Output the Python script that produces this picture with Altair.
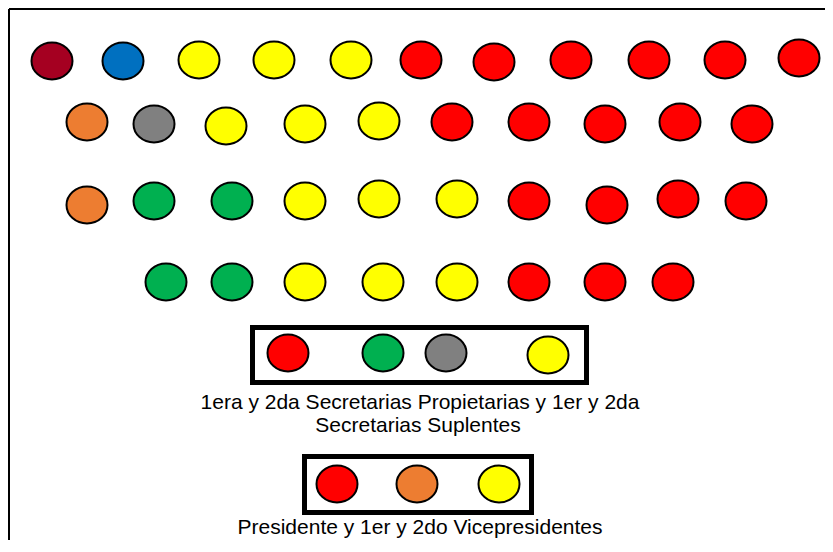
import altair as alt
import pandas as pd

# Seat rows (centre positions, in page pixels)
row1_party = ["guinda", "azul", "amarillo", "amarillo", "amarillo",
              "rojo", "rojo", "rojo", "rojo", "rojo", "rojo"]
row1_x = [52, 123, 199, 274, 351, 421, 494, 571, 649, 725, 799]
row1_y = [61, 61, 60, 60, 60, 60, 62, 60, 60, 60, 58]

row2_party = ["naranja", "gris", "amarillo", "amarillo", "amarillo",
              "rojo", "rojo", "rojo", "rojo", "rojo"]
row2_x = [87, 154, 226, 305, 379, 452, 529, 605, 680, 752]
row2_y = [122, 124, 126, 124, 121, 122, 122, 124, 122, 124]

row3_party = ["naranja", "verde", "verde", "amarillo", "amarillo", "amarillo",
              "rojo", "rojo", "rojo", "rojo"]
row3_x = [87, 154, 232, 305, 379, 457, 529, 607, 678, 746]
row3_y = [205, 201, 201, 201, 199, 199, 201, 205, 199, 201]

row4_party = ["verde", "verde", "amarillo", "amarillo", "amarillo",
              "rojo", "rojo", "rojo"]
row4_x = [166, 232, 305, 383, 457, 529, 605, 673]
row4_y = [282, 282, 282, 282, 282, 282, 282, 282]

secretarias_party = ["rojo", "verde", "gris", "amarillo"]
secretarias_x = [288, 383, 446, 548]
secretarias_y = [353, 353, 353, 355]

presidencia_party = ["rojo", "naranja", "amarillo"]
presidencia_x = [337, 417, 499]
presidencia_y = [484, 484, 484]

parties = ["guinda", "azul", "amarillo", "rojo", "naranja", "gris", "verde"]
party_colors = ["#A50021", "#0070C0", "#FFFF00", "#FF0000", "#ED7D31", "#808080", "#00B050"]

# Boxes around the board seats
box_x = [252.5, 304.5]
box_x2 = [586.5, 531.5]
box_y = [327.5, 456.5]
box_y2 = [382.5, 512.5]

label_text = ["1era y 2da Secretarias Propietarias y 1er y 2da",
              "Secretarias Suplentes",
              "Presidente y 1er y 2do Vicepresidentes"]
label_x = [420, 418, 420]
label_y = [408.5, 431.5, 534]

frame_x = [9, 9]
frame_x2 = [825, 9]
frame_y = [9, 9]
frame_y2 = [9, 540]

seats = pd.DataFrame({
    "party": row1_party + row2_party + row3_party + row4_party + secretarias_party + presidencia_party,
    "x": row1_x + row2_x + row3_x + row4_x + secretarias_x + presidencia_x,
    "y": row1_y + row2_y + row3_y + row4_y + secretarias_y + presidencia_y,
})
boxes = pd.DataFrame({"x": box_x, "x2": box_x2, "y": box_y, "y2": box_y2})
labels = pd.DataFrame({"text": label_text, "x": label_x, "y": label_y})
frame = pd.DataFrame({"x": frame_x, "x2": frame_x2, "y": frame_y, "y2": frame_y2})

W, H = 817, 532
xs = alt.Scale(domain=[8, 8 + W], nice=False, zero=False)
ys = alt.Scale(domain=[8, 8 + H], reverse=True, nice=False, zero=False)

ellipse = "M-1,0A1,0.902,0,1,1,1,0A1,0.902,0,1,1,-1,0Z"

seat_layer = alt.Chart(seats).mark_point(
    shape=ellipse, filled=True, size=41 * 41, stroke="black", strokeWidth=2, opacity=1
).encode(
    x=alt.X("x:Q", scale=xs, axis=None),
    y=alt.Y("y:Q", scale=ys, axis=None),
    fill=alt.Fill("party:N", scale=alt.Scale(domain=parties, range=party_colors), legend=None),
)

box_layer = alt.Chart(boxes).mark_rect(
    fillOpacity=0, stroke="black", strokeWidth=5
).encode(
    x=alt.X("x:Q", scale=xs, axis=None), x2="x2:Q",
    y=alt.Y("y:Q", scale=ys, axis=None), y2="y2:Q",
)

frame_layer = alt.Chart(frame).mark_rule(color="black", strokeWidth=2).encode(
    x=alt.X("x:Q", scale=xs, axis=None), x2="x2:Q",
    y=alt.Y("y:Q", scale=ys, axis=None), y2="y2:Q",
)

text_layer = alt.Chart(labels).mark_text(
    font="Liberation Sans", fontSize=21, color="black", align="center", baseline="alphabetic"
).encode(
    x=alt.X("x:Q", scale=xs, axis=None),
    y=alt.Y("y:Q", scale=ys, axis=None),
    text="text:N",
)

chart = alt.layer(frame_layer, box_layer, seat_layer, text_layer).properties(
    width=W, height=H, padding=0, autosize=alt.AutoSizeParams(type="none"),
    background="white",
).configure_view(stroke=None)

chart.save("out.html", embed_options={"renderer": "svg", "actions": False})
